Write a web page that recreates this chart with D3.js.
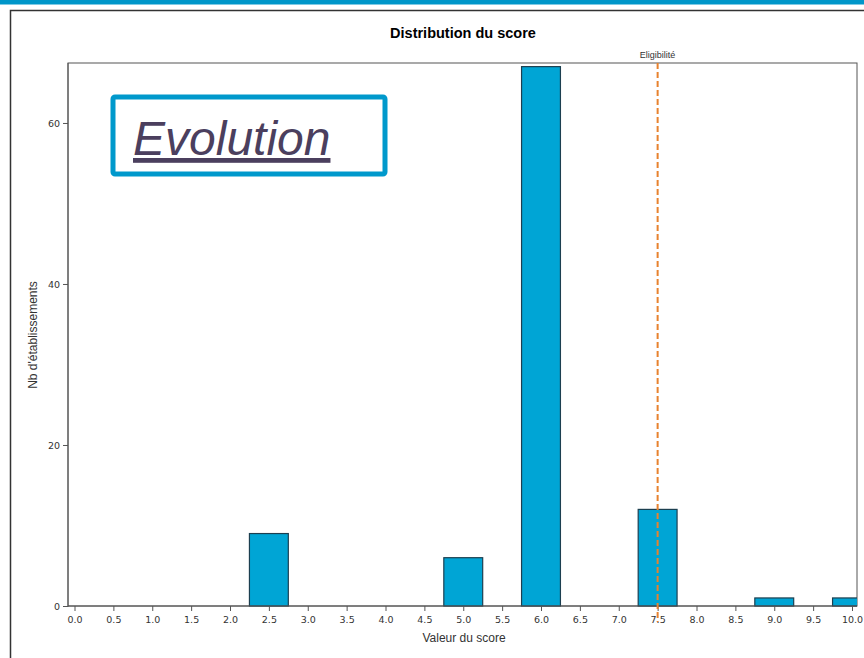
<!DOCTYPE html>
<html><head><meta charset="utf-8">
<script src="https://cdn.jsdelivr.net/npm/d3@7/dist/d3.min.js"></script>
<style>body{margin:0;background:#fff;font-family:"Liberation Sans",Arial,sans-serif;}</style>
</head><body><svg id="c" width="864" height="658"></svg>
<script>
const scoreBins = [2.5,3.0,3.5,4.0,4.5,5.0,5.5,6.0,6.5,7.0,7.5,8.0,8.5,9.0,9.5,10.0];
const counts    = [9,0,0,0,0,6,0,67,0,0,12,0,0,1,0,1];
const xTicks = [0,0.5,1,1.5,2,2.5,3,3.5,4,4.5,5,5.5,6,6.5,7,7.5,8,8.5,9,9.5,10];
const yTicks = [0,20,40,60];
const eligibility = 7.5;
const title = "Distribution du score";
const xTitle = "Valeur du score";
const yTitle = "Nb d'établissements";
const binWidth = 0.5;

const svg = d3.select("#c");
// top band
svg.append("rect").attr("x",0).attr("y",0).attr("width",864).attr("height",4.5).attr("fill","#0096c9");
// outer frame
svg.append("rect").attr("x",10.5).attr("y",10.5).attr("width",900).attr("height",700)
  .attr("fill","none").attr("stroke","#333").attr("stroke-width",1.5);

const L=68,R=857,T=63,B=606;
const x = d3.scaleLinear().domain([0,10]).range([74.5,852]);
const y = d3.scaleLinear().domain([0,67.45]).range([B,T]);

svg.append("text").attr("x",463).attr("y",38).attr("text-anchor","middle")
  .attr("font-weight","bold").attr("font-size",14.5).attr("fill","#000").text(title);

const defs = svg.append("defs");
defs.append("clipPath").attr("id","clip").append("rect").attr("x",L).attr("y",T-2).attr("width",R-L).attr("height",B-T+4);

// plot frame
svg.append("rect").attr("x",L).attr("y",T).attr("width",R-L).attr("height",B-T)
  .attr("fill","none").attr("stroke","#555").attr("stroke-width",1);

// bars
svg.append("g").attr("clip-path","url(#clip)").selectAll("rect").data(scoreBins).join("rect")
  .attr("x",(d)=>x(d-binWidth/2))
  .attr("width",(d)=>x(d+binWidth/2)-x(d-binWidth/2))
  .attr("y",(d,i)=>y(counts[i]))
  .attr("height",(d,i)=>Math.max(0,y(0)-y(counts[i])))
  .attr("fill","#00a5d5").attr("stroke","#1c3f50").attr("stroke-width",1.2);

// axes
const xAxis = svg.append("g").attr("transform",`translate(0,${B})`)
  .call(d3.axisBottom(x).tickValues(xTicks).tickFormat(d3.format(".1f")).tickSize(5).tickSizeOuter(0));
xAxis.select(".domain").attr("d",`M${L},0H${R}`);
const yAxis = svg.append("g").attr("transform",`translate(${L},0)`)
  .call(d3.axisLeft(y).tickValues(yTicks).tickSize(5).tickSizeOuter(0));
[xAxis,yAxis].forEach(a=>{
  a.selectAll(".domain").attr("stroke","#555");
  a.selectAll(".tick line").attr("stroke","#555");
  a.selectAll(".tick text").attr("fill","#333").attr("font-size",9.5).attr("font-family","DejaVu Sans, sans-serif");
});
xAxis.selectAll(".tick text").attr("dy","0.95em");
yAxis.select(".domain").attr("d",`M0,${T}V${B+1}`);

svg.append("text").attr("x",464).attr("y",642).attr("text-anchor","middle")
  .attr("font-size",12).attr("fill","#333").text(xTitle);
svg.append("text").attr("transform",`translate(37,335) rotate(-90)`).attr("text-anchor","middle")
  .attr("font-size",12).attr("fill","#333").text(yTitle);

// eligibility line
svg.append("line").attr("x1",x(eligibility)).attr("x2",x(eligibility)).attr("y1",T).attr("y2",622)
  .attr("stroke","#e8822e").attr("stroke-width",2).attr("stroke-dasharray","6,3");
svg.append("text").attr("x",x(eligibility)).attr("y",58).attr("text-anchor","middle")
  .attr("font-size",9).attr("fill","#333").text("Eligibilité");

// Evolution box
svg.append("rect").attr("x",113).attr("y",97).attr("width",272).attr("height",77).attr("rx",2)
  .attr("fill","#fff").attr("stroke","#0099cc").attr("stroke-width",5);
svg.append("text").attr("x",133).attr("y",155).attr("font-size",48).attr("font-style","italic")
  .attr("fill","#4b3f5e").attr("text-decoration","underline").text("Evolution");
</script></body></html>
